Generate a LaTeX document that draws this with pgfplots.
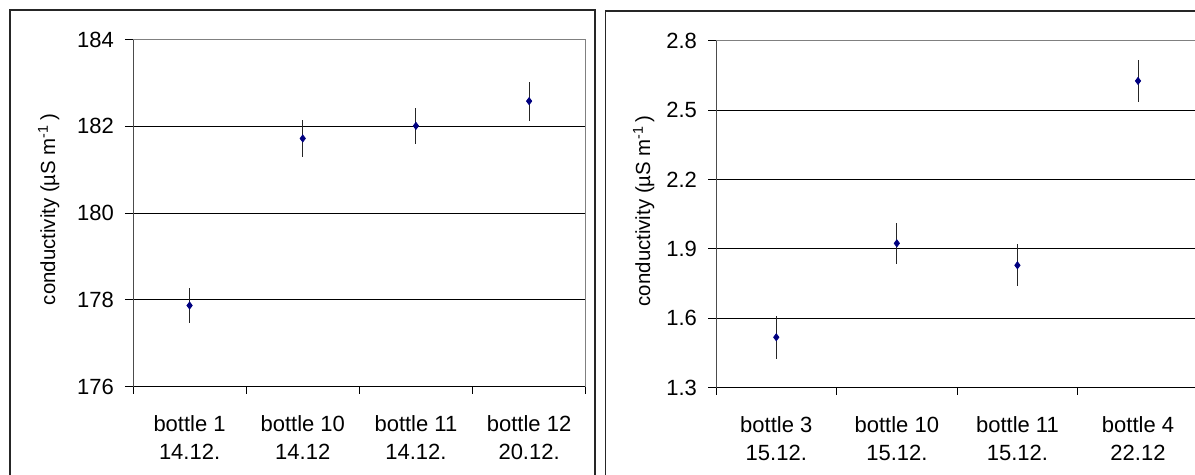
\documentclass[border=0pt]{standalone}
\usepackage{pgfplots}
\usepackage{pgfplotstable}
\pgfplotsset{compat=1.18}
\usepackage{fontspec}
\setmainfont{Liberation Sans}
\definecolor{navy}{RGB}{0,0,128}

\pgfplotstableread{
x y e
1 177.87 0.41
2 181.72 0.42
3 182.01 0.42
4 182.58 0.45
}\tabA

\pgfplotstableread{
x y e
1 1.518 0.092
2 1.924 0.090
3 1.829 0.090
4 2.626 0.091
}\tabB

\pgfplotsset{
  myax/.style={
    scale only axis,
    axis lines=left,
    axis line style={-, line width=0.5pt},
    x axis line style={black},
    y axis line style={black!70},
    xmin=0.5, xmax=4.5,
    xtick={1,2,3,4},
    major x tick style={draw=none},
    minor xtick={0.5,1.5,2.5,3.5,4.5},
    minor x tick style={black, line width=0.5pt},
    minor tick length=3.5pt,
    major tick length=4pt,
    tick align=outside,
    ytick style={black, line width=0.5pt},
    ymajorgrids,
    grid style={black, line width=0.5pt},
    /pgf/number format/assume math mode=true,
    tick label style={font=\fontsize{11}{13.8}\selectfont},
    label style={font=\fontsize{10.2}{12}\selectfont},
    xticklabel style={align=center, anchor=north, yshift=-7pt},
    yticklabel style={anchor=east, xshift=-2pt},
    ylabel={conductivity (µS m\textsuperscript{-1}\,)},
    clip=false,
  }
}

\begin{document}
\begin{tikzpicture}
\useasboundingbox (0,0) rectangle (597.5pt,237.5pt);
\clip (0,0) rectangle (597.5pt,237.5pt);
% panel frames
\draw[black!85, line width=0.6pt] (5pt,-5pt) -- (5pt,232.5pt) -- (297.5pt,232.5pt) -- (297.5pt,-5pt);
\draw[black!85, line width=0.6pt] (302.85pt,-5pt) -- (302.85pt,232pt) -- (610pt,232pt);

\begin{axis}[myax,
  at={(66.5pt,44.15pt)}, anchor=south west,
  width=226.35pt, height=173.6pt,
  ymin=176, ymax=184, ytick={176,178,180,182,184},
  xticklabels={{bottle 1\\14.12.},{bottle 10\\14.12},{bottle 11\\14.12.},{bottle 12\\20.12.}},
  ylabel style={at={(axis description cs:-0.186,0.51)}, anchor=center},
]
\addplot[only marks, mark=diamond*, mark size=1.75pt, color=navy,
  error bars/.cd, y dir=both, y explicit,
  error bar style={black!85, line width=0.5pt}, error mark=none]
  table[x=x, y=y, y error=e]{\tabA};
\draw[gray, line width=0.5pt] (rel axis cs:0,1) -- (rel axis cs:1,1) -- (rel axis cs:1,0);
\end{axis}

\begin{axis}[myax,
  at={(358pt,43.65pt)}, anchor=south west,
  width=241.15pt, height=173.5pt,
  ymin=1.3, ymax=2.8, ytick={1.3,1.6,1.9,2.2,2.5,2.8},
  yticklabel={\pgfmathprintnumber[fixed, fixed zerofill, precision=1]{\tick}},
  xticklabels={{bottle 3\\15.12.},{bottle 10\\15.12.},{bottle 11\\15.12.},{bottle 4\\22.12}},
  ylabel style={at={(axis description cs:-0.15,0.51)}, anchor=center},
]
\addplot[only marks, mark=diamond*, mark size=1.75pt, color=navy,
  error bars/.cd, y dir=both, y explicit,
  error bar style={black!85, line width=0.5pt}, error mark=none]
  table[x=x, y=y, y error=e]{\tabB};
\draw[gray, line width=0.5pt] (rel axis cs:0,1) -- (rel axis cs:1,1) -- (rel axis cs:1,0);
\end{axis}
\end{tikzpicture}
\end{document}
